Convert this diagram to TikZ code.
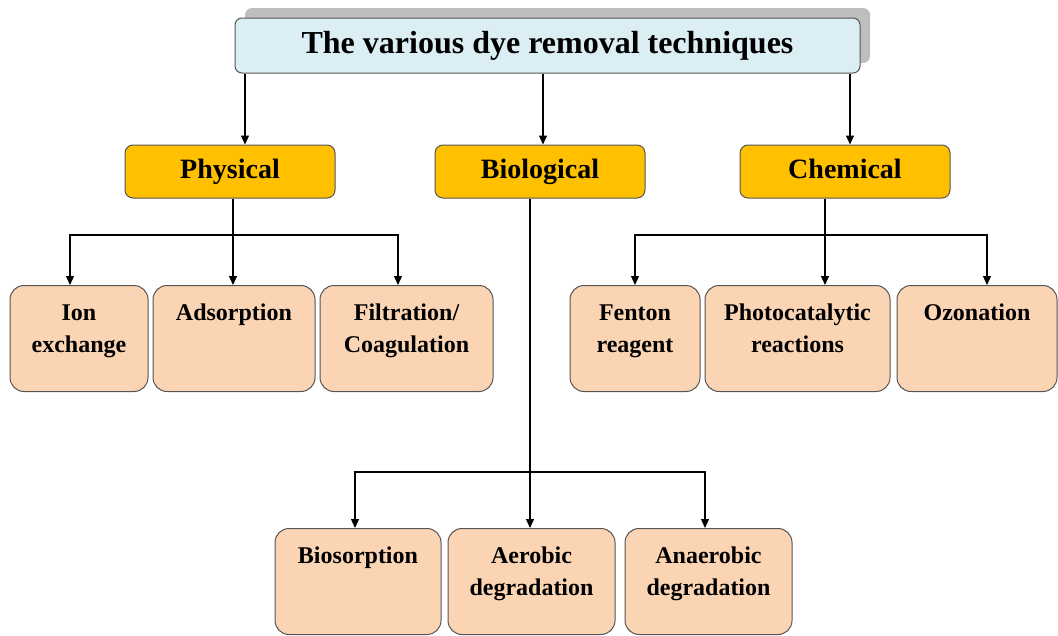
\documentclass[tikz,border=0pt]{standalone}
\usepackage{fontspec}
\setmainfont{Liberation Serif}
\usepackage{tikz}
\usetikzlibrary{arrows.meta, positioning, calc, shadows}
\definecolor{titlefill}{RGB}{218,238,243}
\definecolor{catfill}{RGB}{255,192,0}
\definecolor{leaffill}{RGB}{251,212,180}
\definecolor{boxline}{RGB}{85,85,85}
\definecolor{shadowgray}{RGB}{190,190,190}
\tikzset{
  titlebox/.style={rectangle, draw=boxline, fill=titlefill,
    minimum width=625pt, minimum height=55pt, text height=22pt, text depth=7pt,
    font=\fontsize{32}{36}\selectfont\bfseries, rounded corners=7pt, line width=1pt},
  catbox/.style={rectangle, draw=boxline, fill=catfill,
    minimum width=210pt, minimum height=53pt, text height=19pt, text depth=6pt,
    font=\fontsize{28}{32}\selectfont\bfseries, rounded corners=8pt, line width=1pt},
  leaf/.style={rectangle, draw=boxline, fill=leaffill, anchor=north,
    inner xsep=0pt, inner ysep=0pt, align=center, text height=35pt, text depth=71pt,
    font=\fontsize{24}{32}\selectfont\bfseries, rounded corners=14pt, line width=1pt},
  arrow/.style={-{Triangle[length=9pt, width=8pt]}, line width=1.2pt, color=black},
  line/.style={line width=1.2pt, color=black}
}

\begin{document}
\begin{tikzpicture}[x=1pt, y=-1pt]
  \useasboundingbox (0,0) rectangle (1058,635);

  \node[titlebox, drop shadow={shadow xshift=10pt, shadow yshift=10pt, fill=shadowgray, opacity=1}] (title) at (547.5,45.5) {The various dye removal techniques};

  \node[catbox] (phys) at (230,171.5) {Physical};
  \node[catbox] (bio) at (540,171.5) {Biological};
  \node[catbox] (chem) at (845,171.5) {Chemical};

  % physical methods
  \node[leaf, text width=138pt] (ion) at (79,285) {Ion\\exchange};
  \node[leaf, text width=162pt] (ads) at (234,285) {Adsorption};
  \node[leaf, text width=173pt] (fil) at (406.5,285) {Filtration/\\Coagulation};

  % chemical methods
  \node[leaf, text width=130pt] (fen) at (635,285) {Fenton\\reagent};
  \node[leaf, text width=185pt] (pho) at (797.5,285) {Photocatalytic\\reactions};
  \node[leaf, text width=160pt] (ozo) at (977,285) {Ozonation};

  % biological methods
  \node[leaf, text width=166pt] (bsp) at (358,528) {Biosorption};
  \node[leaf, text width=167pt] (aer) at (531.5,528) {Aerobic\\degradation};
  \node[leaf, text width=167pt] (ana) at (708.5,528) {Anaerobic\\degradation};

  \draw[arrow] ([xshift=15pt]phys.north |- title.south) -- ([xshift=15pt]phys.north);
  \draw[arrow] ([xshift=3pt]bio.north |- title.south) -- ([xshift=3pt]bio.north);
  \draw[arrow] ([xshift=5pt]chem.north |- title.south) -- ([xshift=5pt]chem.north);

  \coordinate (physbr) at (233,235);
  \draw[line] ([xshift=3pt]phys.south) -- (physbr);
  \draw[arrow] (physbr) -| ([xshift=-9pt]ion.north);
  \draw[arrow] (physbr) -- (physbr |- ads.north);
  \draw[arrow] (physbr) -| ([xshift=-8.5pt]fil.north);

  \coordinate (chembr) at (825,235);
  \draw[line] ([xshift=-20pt]chem.south) -- (chembr);
  \draw[arrow] (chembr) -| (fen.north);
  \draw[arrow] (chembr) -- (chembr |- pho.north);
  \draw[arrow] (chembr) -| ([xshift=10pt]ozo.north);

  \coordinate (biobr) at (530,472);
  \draw[line] ([xshift=-10pt]bio.south) -- (biobr);
  \draw[arrow] (biobr) -| ([xshift=-3pt]bsp.north);
  \draw[arrow] (biobr) -- (biobr |- aer.north);
  \draw[arrow] (biobr) -| ([xshift=-3.5pt]ana.north);
\end{tikzpicture}
\end{document}
